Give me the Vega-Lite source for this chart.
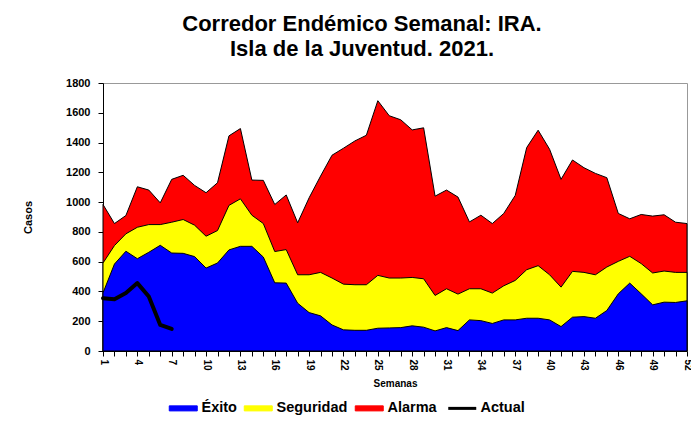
{
  "$schema": "https://vega.github.io/schema/vega-lite/v6.json",
  "width": 584,
  "height": 268,
  "autosize": {"type": "none"},
  "padding": {"left": 103, "top": 83, "right": 4, "bottom": 75},
  "background": "white",
  "config": {
    "font": "Liberation Sans",
    "view": {"stroke": "#999999", "strokeWidth": 1}
  },
  "title": {
    "text": ["Corredor Endémico Semanal:  IRA.", "Isla de la Juventud. 2021."],
    "font": "Liberation Sans",
    "fontSize": 22,
    "fontWeight": "bold",
    "color": "black",
    "anchor": "middle",
    "dx": -33,
    "offset": 16,
    "lineHeight": 25
  },
  "data": {
    "values": [
      {"semana":1,"serie":"Alarma","casos":984},{"semana":2,"serie":"Alarma","casos":856},{"semana":3,"serie":"Alarma","casos":910},{"semana":4,"serie":"Alarma","casos":1103},{"semana":5,"serie":"Alarma","casos":1081},{"semana":6,"serie":"Alarma","casos":995},{"semana":7,"serie":"Alarma","casos":1153},{"semana":8,"serie":"Alarma","casos":1180},{"semana":9,"serie":"Alarma","casos":1112},{"semana":10,"serie":"Alarma","casos":1063},{"semana":11,"serie":"Alarma","casos":1130},{"semana":12,"serie":"Alarma","casos":1445},{"semana":13,"serie":"Alarma","casos":1494},{"semana":14,"serie":"Alarma","casos":1148},{"semana":15,"serie":"Alarma","casos":1146},{"semana":16,"serie":"Alarma","casos":984},{"semana":17,"serie":"Alarma","casos":1048},{"semana":18,"serie":"Alarma","casos":861},{"semana":19,"serie":"Alarma","casos":1029},{"semana":20,"serie":"Alarma","casos":1175},{"semana":21,"serie":"Alarma","casos":1315},{"semana":22,"serie":"Alarma","casos":1362},{"semana":23,"serie":"Alarma","casos":1411},{"semana":24,"serie":"Alarma","casos":1449},{"semana":25,"serie":"Alarma","casos":1681},{"semana":26,"serie":"Alarma","casos":1580},{"semana":27,"serie":"Alarma","casos":1553},{"semana":28,"serie":"Alarma","casos":1485},{"semana":29,"serie":"Alarma","casos":1499},{"semana":30,"serie":"Alarma","casos":1040},{"semana":31,"serie":"Alarma","casos":1081},{"semana":32,"serie":"Alarma","casos":1034},{"semana":33,"serie":"Alarma","casos":867},{"semana":34,"serie":"Alarma","casos":912},{"semana":35,"serie":"Alarma","casos":856},{"semana":36,"serie":"Alarma","casos":924},{"semana":37,"serie":"Alarma","casos":1045},{"semana":38,"serie":"Alarma","casos":1366},{"semana":39,"serie":"Alarma","casos":1483},{"semana":40,"serie":"Alarma","casos":1355},{"semana":41,"serie":"Alarma","casos":1153},{"semana":42,"serie":"Alarma","casos":1283},{"semana":43,"serie":"Alarma","casos":1231},{"semana":44,"serie":"Alarma","casos":1193},{"semana":45,"serie":"Alarma","casos":1164},{"semana":46,"serie":"Alarma","casos":924},{"semana":47,"serie":"Alarma","casos":888},{"semana":48,"serie":"Alarma","casos":917},{"semana":49,"serie":"Alarma","casos":906},{"semana":50,"serie":"Alarma","casos":915},{"semana":51,"serie":"Alarma","casos":865},{"semana":52,"serie":"Alarma","casos":856},
      {"semana":1,"serie":"Seguridad","casos":591},{"semana":2,"serie":"Seguridad","casos":708},{"semana":3,"serie":"Seguridad","casos":787},{"semana":4,"serie":"Seguridad","casos":831},{"semana":5,"serie":"Seguridad","casos":849},{"semana":6,"serie":"Seguridad","casos":849},{"semana":7,"serie":"Seguridad","casos":865},{"semana":8,"serie":"Seguridad","casos":883},{"semana":9,"serie":"Seguridad","casos":845},{"semana":10,"serie":"Seguridad","casos":771},{"semana":11,"serie":"Seguridad","casos":809},{"semana":12,"serie":"Seguridad","casos":978},{"semana":13,"serie":"Seguridad","casos":1022},{"semana":14,"serie":"Seguridad","casos":912},{"semana":15,"serie":"Seguridad","casos":856},{"semana":16,"serie":"Seguridad","casos":668},{"semana":17,"serie":"Seguridad","casos":681},{"semana":18,"serie":"Seguridad","casos":512},{"semana":19,"serie":"Seguridad","casos":512},{"semana":20,"serie":"Seguridad","casos":528},{"semana":21,"serie":"Seguridad","casos":490},{"semana":22,"serie":"Seguridad","casos":449},{"semana":23,"serie":"Seguridad","casos":445},{"semana":24,"serie":"Seguridad","casos":445},{"semana":25,"serie":"Seguridad","casos":508},{"semana":26,"serie":"Seguridad","casos":490},{"semana":27,"serie":"Seguridad","casos":490},{"semana":28,"serie":"Seguridad","casos":494},{"semana":29,"serie":"Seguridad","casos":485},{"semana":30,"serie":"Seguridad","casos":373},{"semana":31,"serie":"Seguridad","casos":418},{"semana":32,"serie":"Seguridad","casos":382},{"semana":33,"serie":"Seguridad","casos":418},{"semana":34,"serie":"Seguridad","casos":418},{"semana":35,"serie":"Seguridad","casos":389},{"semana":36,"serie":"Seguridad","casos":438},{"semana":37,"serie":"Seguridad","casos":474},{"semana":38,"serie":"Seguridad","casos":546},{"semana":39,"serie":"Seguridad","casos":573},{"semana":40,"serie":"Seguridad","casos":512},{"semana":41,"serie":"Seguridad","casos":429},{"semana":42,"serie":"Seguridad","casos":535},{"semana":43,"serie":"Seguridad","casos":528},{"semana":44,"serie":"Seguridad","casos":512},{"semana":45,"serie":"Seguridad","casos":564},{"semana":46,"serie":"Seguridad","casos":602},{"semana":47,"serie":"Seguridad","casos":636},{"semana":48,"serie":"Seguridad","casos":587},{"semana":49,"serie":"Seguridad","casos":524},{"semana":50,"serie":"Seguridad","casos":537},{"semana":51,"serie":"Seguridad","casos":528},{"semana":52,"serie":"Seguridad","casos":528},
      {"semana":1,"serie":"Éxito","casos":390},{"semana":2,"serie":"Éxito","casos":584},{"semana":3,"serie":"Éxito","casos":670},{"semana":4,"serie":"Éxito","casos":620},{"semana":5,"serie":"Éxito","casos":663},{"semana":6,"serie":"Éxito","casos":710},{"semana":7,"serie":"Éxito","casos":658},{"semana":8,"serie":"Éxito","casos":656},{"semana":9,"serie":"Éxito","casos":634},{"semana":10,"serie":"Éxito","casos":557},{"semana":11,"serie":"Éxito","casos":591},{"semana":12,"serie":"Éxito","casos":679},{"semana":13,"serie":"Éxito","casos":703},{"semana":14,"serie":"Éxito","casos":703},{"semana":15,"serie":"Éxito","casos":631},{"semana":16,"serie":"Éxito","casos":458},{"semana":17,"serie":"Éxito","casos":456},{"semana":18,"serie":"Éxito","casos":321},{"semana":19,"serie":"Éxito","casos":258},{"semana":20,"serie":"Éxito","casos":236},{"semana":21,"serie":"Éxito","casos":175},{"semana":22,"serie":"Éxito","casos":142},{"semana":23,"serie":"Éxito","casos":139},{"semana":24,"serie":"Éxito","casos":139},{"semana":25,"serie":"Éxito","casos":153},{"semana":26,"serie":"Éxito","casos":155},{"semana":27,"serie":"Éxito","casos":157},{"semana":28,"serie":"Éxito","casos":169},{"semana":29,"serie":"Éxito","casos":160},{"semana":30,"serie":"Éxito","casos":135},{"semana":31,"serie":"Éxito","casos":157},{"semana":32,"serie":"Éxito","casos":137},{"semana":33,"serie":"Éxito","casos":209},{"semana":34,"serie":"Éxito","casos":204},{"semana":35,"serie":"Éxito","casos":185},{"semana":36,"serie":"Éxito","casos":209},{"semana":37,"serie":"Éxito","casos":209},{"semana":38,"serie":"Éxito","casos":220},{"semana":39,"serie":"Éxito","casos":220},{"semana":40,"serie":"Éxito","casos":209},{"semana":41,"serie":"Éxito","casos":164},{"semana":42,"serie":"Éxito","casos":227},{"semana":43,"serie":"Éxito","casos":231},{"semana":44,"serie":"Éxito","casos":220},{"semana":45,"serie":"Éxito","casos":272},{"semana":46,"serie":"Éxito","casos":384},{"semana":47,"serie":"Éxito","casos":456},{"semana":48,"serie":"Éxito","casos":384},{"semana":49,"serie":"Éxito","casos":310},{"semana":50,"serie":"Éxito","casos":328},{"semana":51,"serie":"Éxito","casos":326},{"semana":52,"serie":"Éxito","casos":337},
      {"semana":1,"serie":"Actual","casos":355},{"semana":2,"serie":"Actual","casos":348},{"semana":3,"serie":"Actual","casos":389},{"semana":4,"serie":"Actual","casos":456},{"semana":5,"serie":"Actual","casos":366},{"semana":6,"serie":"Actual","casos":175},{"semana":7,"serie":"Actual","casos":148}
    ]
  },
  "encoding": {
    "x": {
      "field": "semana",
      "type": "quantitative",
      "scale": {"domain": [1, 52], "nice": false, "zero": false},
      "axis": {
        "title": "Semanas",
        "values": [1,2,3,4,5,6,7,8,9,10,11,12,13,14,15,16,17,18,19,20,21,22,23,24,25,26,27,28,29,30,31,32,33,34,35,36,37,38,39,40,41,42,43,44,45,46,47,48,49,50,51,52],
        "labelExpr": "(datum.value - 1) % 3 === 0 ? datum.label : ''",
        "labelAngle": 90,
        "labelFont": "Liberation Sans",
        "labelFontSize": 10,
        "labelFontWeight": "bold",
        "labelColor": "black",
        "labelPadding": 3,
        "labelOverlap": false,
        "labelFlush": false,
        "titleFont": "Liberation Sans",
        "titleFontSize": 10,
        "titleFontWeight": "bold",
        "titleColor": "black",
        "titlePadding": 8,
        "grid": false,
        "domainColor": "black",
        "tickColor": "black",
        "tickSize": 5
      }
    },
    "y": {
      "field": "casos",
      "type": "quantitative",
      "stack": null,
      "scale": {"domain": [0, 1800], "nice": false},
      "axis": {
        "title": "Casos",
        "format": "d",
        "values": [0,200,400,600,800,1000,1200,1400,1600,1800],
        "labelFont": "Liberation Sans",
        "labelFontSize": 11,
        "labelFontWeight": "bold",
        "labelColor": "black",
        "labelPadding": 8,
        "titleFont": "Liberation Sans",
        "titleFontSize": 11,
        "titleFontWeight": "bold",
        "titleColor": "black",
        "titlePadding": 32,
        "grid": false,
        "domainColor": "black",
        "tickColor": "black",
        "tickSize": 5
      }
    },
    "color": {
      "field": "serie",
      "type": "nominal",
      "scale": {
        "domain": ["Éxito", "Seguridad", "Alarma", "Actual"],
        "range": ["#0000FF", "#FFFF00", "#FF0000", "#000000"]
      },
      "legend": {
        "title": null,
        "orient": "none",
        "legendX": 73,
        "legendY": 318,
        "direction": "horizontal",
        "labelFont": "Liberation Sans",
        "labelFontSize": 14.5,
        "labelFontWeight": "bold",
        "labelColor": "black",
        "labelOffset": 11,
        "columnPadding": 5,
        "symbolSize": 784,
        "symbolStrokeColor": "black",
        "symbolStrokeWidth": 1,
        "encode": {
          "symbols": {
            "update": {
              "shape": {"signal": "datum.value === 'Actual' ? 'M-1,0H1' : 'M-1,-0.18H1V0.18H-1Z'"},
              "fill": {"signal": "datum.value === 'Actual' ? 'transparent' : scale('color', datum.value)"},
              "stroke": {"value": "black"},
              "strokeWidth": {"signal": "datum.value === 'Actual' ? 3 : 1"},
              "opacity": {"value": 1},
              "fillOpacity": {"value": 1},
              "strokeOpacity": {"value": 1}
            }
          }
        }
      }
    }
  },
  "layer": [
    {
      "transform": [{"filter": "datum.serie === 'Alarma'"}],
      "mark": {"type": "area", "stroke": "black", "strokeWidth": 1, "opacity": 1}
    },
    {
      "transform": [{"filter": "datum.serie === 'Seguridad'"}],
      "mark": {"type": "area", "stroke": "black", "strokeWidth": 1, "opacity": 1}
    },
    {
      "transform": [{"filter": "datum.serie === 'Éxito'"}],
      "mark": {"type": "area", "stroke": "black", "strokeWidth": 1, "opacity": 1}
    },
    {
      "transform": [{"filter": "datum.serie === 'Actual'"}],
      "mark": {"type": "line", "strokeWidth": 4, "strokeJoin": "round", "strokeCap": "round"}
    }
  ]
}
